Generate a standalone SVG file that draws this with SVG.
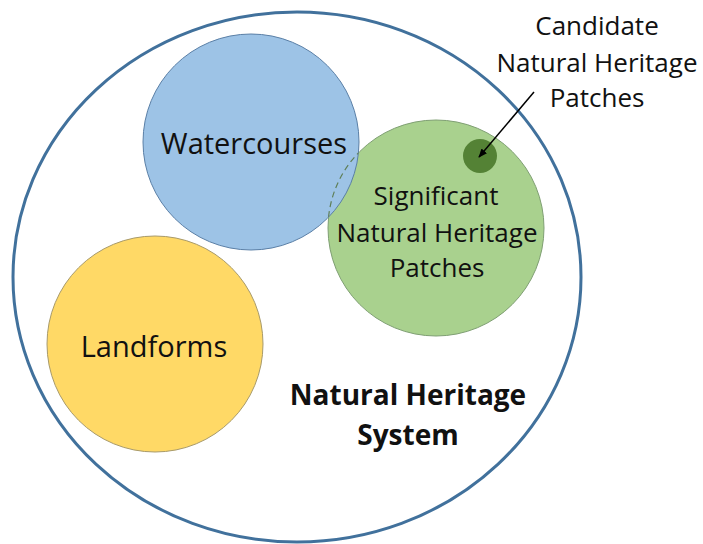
<svg xmlns="http://www.w3.org/2000/svg" width="703" height="544" viewBox="0 0 703 544">
<defs>
<style>
.t{font-family:"Open Sans","Liberation Sans",sans-serif;font-size:26px;fill:#111;text-anchor:middle}
.l{font-size:29px}
.b{font-weight:bold;font-size:28px}
</style>
<clipPath id="blueClip"><circle cx="251" cy="142" r="108"/></clipPath>
<marker id="arr" viewBox="0 0 10 10" refX="9" refY="5" markerWidth="9" markerHeight="9" orient="auto" markerUnits="userSpaceOnUse"><path d="M0,1 L10,5 L0,9 z" fill="#000"/></marker>
</defs>
<rect width="703" height="544" fill="#fff"/>
<g id="system">
<ellipse cx="297" cy="277" rx="284" ry="265" fill="#fff" stroke="#41719C" stroke-width="3"/>
<text class="t b" x="408" y="405">Natural Heritage</text>
<text class="t b" x="408" y="445">System</text>
</g>
<g id="significant">
<circle cx="436" cy="228" r="108" fill="#A9D18E" stroke="#7F9F73" stroke-width="1"/>
<text class="t" x="436" y="205">Significant</text>
<text class="t" x="437" y="242">Natural Heritage</text>
<text class="t" x="437" y="277">Patches</text>
</g>
<g id="watercourses">
<circle cx="251" cy="142" r="108" fill="#9DC3E6" stroke="#5A7FA6" stroke-width="1"/>
<circle cx="436" cy="228" r="108" fill="none" stroke="#5F7F58" stroke-width="1.2" stroke-dasharray="6,4" clip-path="url(#blueClip)"/>
<text class="t l" x="254" y="154">Watercourses</text>
</g>
<g id="landforms">
<circle cx="155" cy="344" r="108" fill="#FFD966" stroke="#A89A6A" stroke-width="1"/>
<text class="t l" x="154" y="357">Landforms</text>
</g>
<g id="candidate">
<circle cx="480" cy="156" r="17" fill="#548235"/>
<text class="t" x="597" y="35">Candidate</text>
<text class="t" x="597" y="72">Natural Heritage</text>
<text class="t" x="597" y="107">Patches</text>
</g>
<g id="connectors">
<line x1="534" y1="92" x2="479" y2="157" stroke="#000" stroke-width="1.5" marker-end="url(#arr)"/>
</g>
</svg>
